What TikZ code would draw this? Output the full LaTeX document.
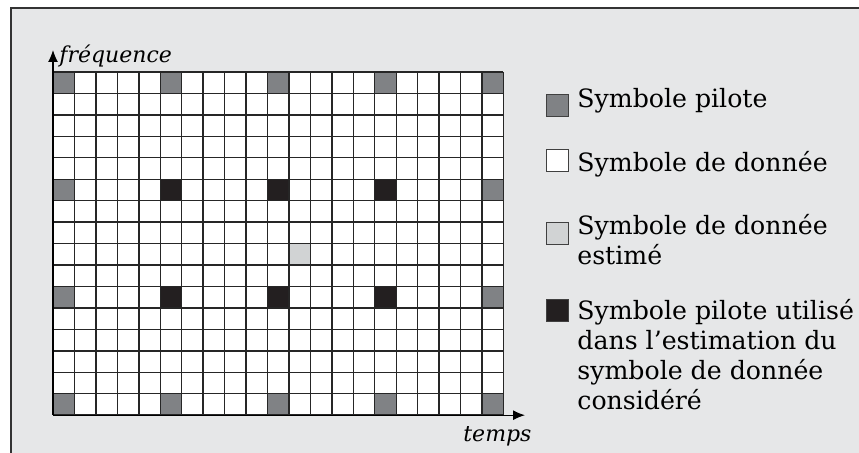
\documentclass[tikz,border=0pt]{standalone}
\usepackage{fontspec}
\setmainfont{DejaVu Serif}
\usetikzlibrary{arrows.meta}
\definecolor{fondgris}{HTML}{E6E7E8}
\definecolor{pilote}{HTML}{808285}
\definecolor{utilise}{HTML}{231F20}
\definecolor{estime}{HTML}{D1D3D4}

\begin{document}
\begin{tikzpicture}[x=0.5pt, y=-0.5pt, >={Latex[length=6pt, width=5pt]},
	case/.style={draw=black!75, line width=0.4pt, minimum size=11pt, inner sep=0pt},
	legende/.style={anchor=base west, align=left, inner sep=0pt, font=\fontsize{12.6}{15}\selectfont},
	axe/.style={anchor=base west, inner sep=0pt, font=\fontsize{11}{13}\selectfont\itshape}]
	\useasboundingbox (0,0) rectangle (859,453);
	\clip (0,0) rectangle (859,453);
	\draw[fill=fondgris, draw=black!80, line width=0.75pt] (11,8) rectangle (880,480);
	% grille temps-frequence
	\fill[white] (53,72) rectangle (503.45,415.2);
	\foreach \i in {0,5,...,20} \foreach \j in {0,5,10,15}
		\fill[pilote] ({53+21.45*\i},{72+21.45*\j}) rectangle ++(21.45,21.45);
	\foreach \i in {5,10,15} \foreach \j in {5,10}
		\fill[utilise] ({53+21.45*\i},{72+21.45*\j}) rectangle ++(21.45,21.45);
	\fill[estime] ({53+21.45*11},{72+21.45*8}) rectangle ++(21.45,21.45);
	\foreach \i in {0,...,21} \draw[black!85, line width=0.7pt] ({53+21.45*\i},72) -- ++(0,343.2);
	\foreach \j in {0,...,16} \draw[black!85, line width=0.7pt] (53,{72+21.45*\j}) -- ++(450.45,0);
	% axes
	\coordinate (origine) at (53,415.2);
	\coordinate (haut) at (53,50);
	\coordinate (droite) at (525,415.2);
	\draw[->, line width=0.6pt] (origine) -- (haut);
	\draw[->, line width=0.6pt] (origine) -- (droite);
	\node[axe] (freq) at (59,63) {fréquence};
	\node[axe] (temps) at (463,442) {temps};
	% legende
	\node[case, fill=pilote] (lp) at (557,105) {};
	\node[case, fill=white] (ld) at (557,160.5) {};
	\node[case, fill=estime] (le) at (557,233) {};
	\node[case, fill=utilise] (lu) at (557,310.5) {};
	\node[legende] (tp) at (577,108) {Symbole pilote};
	\node[legende] (td) at (577,172) {Symbole de donnée};
	\node[legende] (te) at (577,265) {Symbole de donnée\\estimé};
	\node[legende] (tu) at (577,410) {Symbole pilote utilisé\\dans l’estimation du\\symbole de donnée\\considéré};
\end{tikzpicture}
\end{document}
